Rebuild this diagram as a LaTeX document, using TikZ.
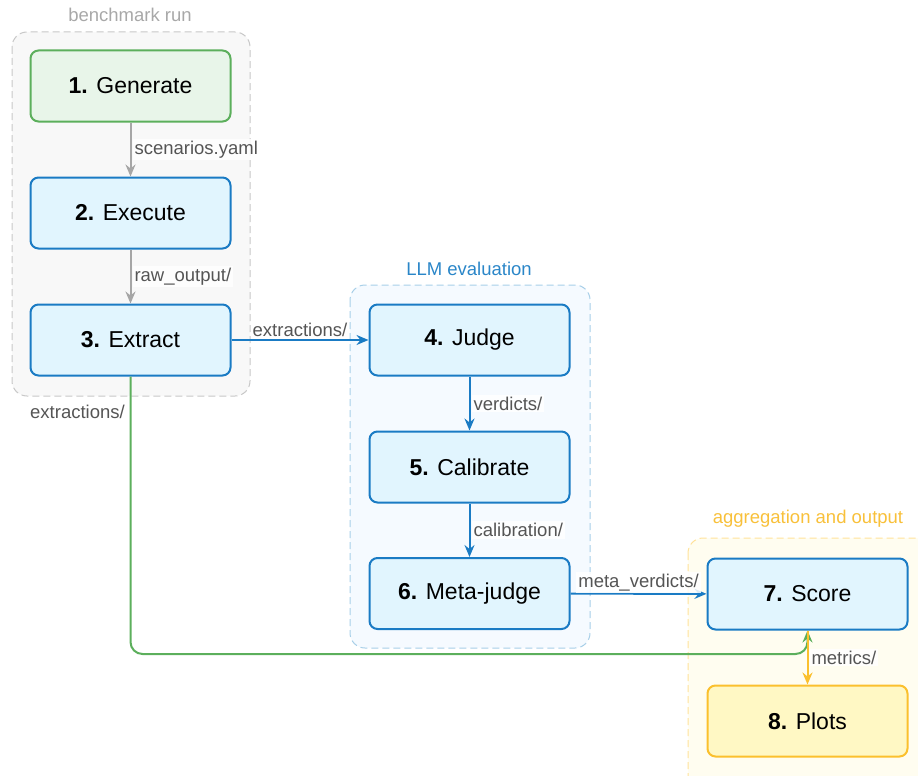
\documentclass[tikz,border=0pt]{standalone}
\usepackage{fontspec}
\setmainfont{Liberation Sans}
\usetikzlibrary{arrows.meta,positioning}

\definecolor{edgegrey}{HTML}{A6A6A6}
\definecolor{labelgrey}{HTML}{555555}
\definecolor{stepblue}{HTML}{1A7BC4}
\definecolor{stepbluefill}{HTML}{E1F5FE}
\definecolor{stepgreen}{HTML}{5CAF5C}
\definecolor{stepgreenfill}{HTML}{E8F5E9}
\definecolor{stepyellow}{HTML}{FBC02D}
\definecolor{stepyellowfill}{HTML}{FFF8C4}
\definecolor{runfill}{HTML}{F8F8F8}
\definecolor{rundraw}{HTML}{C8C8C8}
\definecolor{runtext}{HTML}{A8A8A8}
\definecolor{llmfill}{HTML}{F5FAFF}
\definecolor{llmdraw}{HTML}{A8CFE8}
\definecolor{llmtext}{HTML}{2A86C8}
\definecolor{aggfill}{HTML}{FFFDF0}
\definecolor{aggdraw}{HTML}{FFE29A}
\definecolor{aggtext}{HTML}{F8C03A}

\tikzset{
  stepbox/.style={draw=stepblue, fill=stepbluefill, line width=2pt,
    rounded corners=8pt, minimum width=200pt, minimum height=71pt,
    font=\fontsize{23}{27}\selectfont, text=black, inner sep=0pt},
  greenbox/.style={stepbox, draw=stepgreen, fill=stepgreenfill},
  yellowbox/.style={stepbox, draw=stepyellow, fill=stepyellowfill},
  cluster/.style={dashed, dash pattern=on 7pt off 4pt, line width=1pt, rounded corners=15pt},
  clusterlabel/.style={font=\fontsize{18.5}{22}\selectfont, inner sep=0pt},
  edgelabel/.style={font=\fontsize{18.5}{22}\selectfont, text=labelgrey,
    fill=white, fill opacity=0.85, text opacity=1, inner sep=2pt},
  tip/.style={-{Stealth[length=12pt,width=10pt,inset=4pt]}},
  flowgrey/.style={tip, draw=edgegrey, line width=2pt},
  flowblue/.style={tip, draw=stepblue, line width=2pt},
  flowgreen/.style={tip, draw=stepgreen, line width=2pt, rounded corners=12pt},
  flowyellow/.style={tip, draw=stepyellow, line width=2pt},
}

\begin{document}
\begin{tikzpicture}[x=1pt, y=-1pt]
  \useasboundingbox (0,0) rectangle (918,776);

  % stage groups
  \draw[cluster, fill=runfill, draw=rundraw] (12,32) rectangle (250,396);
  \node[clusterlabel, text=runtext] (runlabel) at (130,15) {benchmark run};

  \draw[cluster, fill=llmfill, draw=llmdraw] (350,285) rectangle (590,648);
  \node[clusterlabel, text=llmtext] (llmlabel) at (469,269) {LLM evaluation};

  \draw[cluster, fill=aggfill, draw=aggdraw] (688,538) rectangle (930,790);
  \node[clusterlabel, text=aggtext] (agglabel) at (808,519) {aggregation and output};

  % pipeline steps
  \node[greenbox] (gen) at (130.5,86) {\textbf{1.} Generate};
  \node[stepbox] (exe) at (130.5,213) {\textbf{2.} Execute};
  \node[stepbox] (ext) at (130.5,340) {\textbf{3.} Extract};
  \node[stepbox] (jud) at (469.5,340) {\textbf{4.} Judge};
  \node[stepbox] (cal) at (469.5,467) {\textbf{5.} Calibrate};
  \node[stepbox] (met) at (469.5,593.5) {\textbf{6.} Meta-judge};
  \node[stepbox] (sco) at (807.5,594) {\textbf{7.} Score};
  \node[yellowbox] (plo) at (807.5,721) {\textbf{8.} Plots};

  % connectors
  \draw[flowgrey] (gen) -- (exe)
    node[midway, right=1pt, edgelabel] (l1) {scenarios.yaml};
  \draw[flowgrey] (exe) -- (ext)
    node[midway, right=1pt, edgelabel] (l2) {raw\_output/};
  \draw[flowblue] (ext) -- (jud)
    node[midway, above=0pt, edgelabel] (l3) {extractions/};
  \draw[flowblue] (jud) -- (cal)
    node[midway, right=1pt, edgelabel] (l4) {verdicts/};
  \draw[flowblue] (cal) -- (met)
    node[midway, right=1pt, edgelabel] (l5) {calibration/};
  \draw[flowblue] (met) -- (sco)
    node[midway, above=0pt, edgelabel] (l6) {meta\_verdicts/};

  \coordinate (bend) at (130.5,654);
  \draw[flowgreen] (ext.south) -- (bend) -| (sco.south);
  \node[edgelabel, anchor=east] (l7) at (127,412) {extractions/};

  \draw[flowyellow] (sco) -- (plo)
    node[midway, right=1pt, edgelabel] (l8) {metrics/};
\end{tikzpicture}
\end{document}
